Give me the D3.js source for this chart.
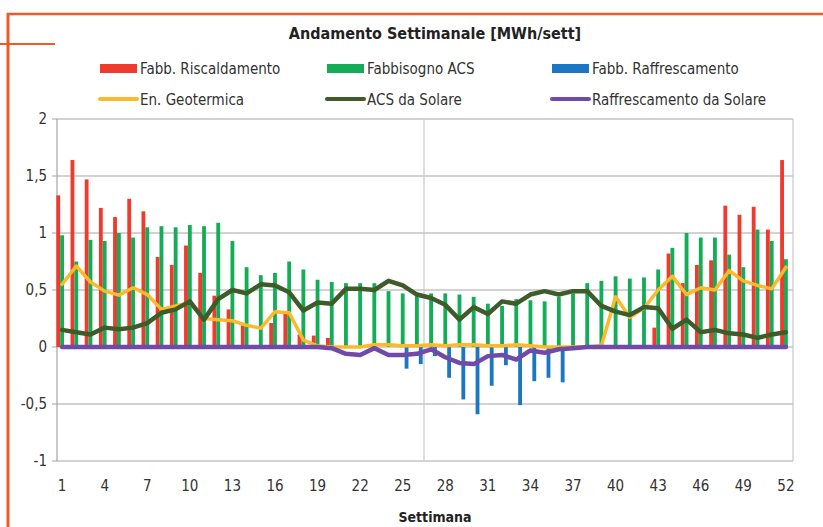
<!DOCTYPE html>
<html>
<head>
<meta charset="utf-8">
<script src="https://cdn.jsdelivr.net/npm/d3@7"></script>
<style>
  body { margin: 0; background: #fff; }
  svg { display: block; font-family: "Liberation Sans Narrow", "DejaVu Sans Condensed", sans-serif; }
</style>
</head>
<body>
<svg id="chart" width="823" height="527"></svg>
<script>
// weekly values, MWh/week
var weeks = d3.range(1, 53);
var riscaldamento = [1.33, 1.64, 1.47, 1.22, 1.14, 1.30, 1.19, 0.79, 0.72, 0.89, 0.65, 0.45, 0.33, 0.19, 0, 0.21, 0.29, 0.11, 0.10, 0.08,
    0, 0, 0, 0, 0, 0, 0, 0, 0, 0, 0, 0, 0, 0, 0, 0, 0, 0, 0, 0,
    0, 0, 0.17, 0.82, 0.56, 0.72, 0.76, 1.24, 1.16, 1.23, 1.03, 1.64];
var fabbisognoAcs = [0.98, 0.75, 0.94, 0.93, 1.00, 0.96, 1.05, 1.06, 1.05, 1.07, 1.06, 1.09, 0.93, 0.70, 0.63, 0.65, 0.75, 0.68, 0.59, 0.57,
    0.56, 0.56, 0.56, 0.49, 0.47, 0.45, 0.47, 0.47, 0.46, 0.44, 0.38, 0.36, 0.42, 0.41, 0.40, 0.44, 0.47, 0.56, 0.58, 0.62,
    0.60, 0.61, 0.68, 0.87, 1.00, 0.96, 0.96, 0.81, 0.70, 1.03, 0.93, 0.77];
var raffrescamento = [0, 0, 0, 0, 0, 0, 0, 0, 0, 0, 0, 0, 0, 0, 0, 0, 0, 0, 0, 0,
    0, 0, 0, 0, -0.19, -0.15, -0.08, -0.27, -0.46, -0.59, -0.34, -0.16, -0.51, -0.30, -0.27, -0.31, 0, 0, 0, 0,
    0, 0, 0, 0, 0, 0, 0, 0, 0, 0, 0, 0];
var geotermica = [0.55, 0.71, 0.57, 0.49, 0.455, 0.52, 0.46, 0.33, 0.36, 0.39, 0.25, 0.24, 0.23, 0.19, 0.165, 0.31, 0.30, 0.06, 0.01, 0,
    0, 0, 0.02, 0.02, 0.01, 0.01, 0.02, 0.01, 0.02, 0.02, 0.01, 0.01, 0.02, 0.01, 0, 0, 0, 0, 0.01, 0.44,
    0.26, 0.34, 0.50, 0.62, 0.46, 0.52, 0.50, 0.67, 0.58, 0.54, 0.51, 0.70];
var acsSolare = [0.15, 0.13, 0.11, 0.17, 0.155, 0.17, 0.21, 0.30, 0.33, 0.40, 0.24, 0.42, 0.50, 0.47, 0.55, 0.54, 0.48, 0.32, 0.39, 0.38,
    0.51, 0.51, 0.50, 0.58, 0.54, 0.46, 0.43, 0.37, 0.24, 0.35, 0.29, 0.40, 0.38, 0.46, 0.49, 0.46, 0.49, 0.49, 0.36, 0.31,
    0.28, 0.35, 0.34, 0.16, 0.24, 0.13, 0.15, 0.12, 0.11, 0.08, 0.11, 0.13];
var raffSolare = [0, 0, 0, 0, 0, 0, 0, 0, 0, 0, 0, 0, 0, 0, 0, 0, 0, 0, 0, -0.01,
    -0.06, -0.07, -0.01, -0.07, -0.07, -0.06, -0.02, -0.09, -0.14, -0.15, -0.08, -0.07, -0.11, -0.03, -0.05, -0.02, -0.01, 0, 0, 0,
    0, 0, 0, 0, 0, 0, 0, 0, 0, 0, 0, 0];
var yTicks = [2, 1.5, 1, 0.5, 0, -0.5, -1];
var xTickWeeks = d3.range(1, 53, 3);

var barSeries = [
    { name: "Fabb. Riscaldamento", values: riscaldamento, color: "#ee3b2e" },
    { name: "Fabbisogno ACS", values: fabbisognoAcs, color: "#14ad57" },
    { name: "Fabb. Raffrescamento", values: raffrescamento, color: "#1c76c2" }
];
var lineSeries = [
    { name: "En. Geotermica", values: geotermica, color: "#fcb92a", width: 3.5 },
    { name: "ACS da Solare", values: acsSolare, color: "#3e5b2a", width: 4.5 },
    { name: "Raffrescamento da Solare", values: raffSolare, color: "#7149a8", width: 4.5 }
];

var svg = d3.select("#chart");
var plotLeft = 57, plotRight = 793, plotTop = 119, plotBottom = 461;

// orange frame of the page the chart was cut from
var frame = "#ef5a2a";
svg.append("line").attr("x1", 8).attr("x2", 8).attr("y1", 13).attr("y2", 527)
    .attr("stroke", frame).attr("stroke-width", 3);
svg.append("line").attr("x1", 7).attr("x2", 823).attr("y1", 14).attr("y2", 14)
    .attr("stroke", frame).attr("stroke-width", 2.5);
svg.append("line").attr("x1", 0).attr("x2", 55).attr("y1", 44).attr("y2", 44)
    .attr("stroke", frame).attr("stroke-width", 2);

var x = d3.scaleBand().domain(weeks).range([plotLeft - 2, plotRight]);
var xSub = d3.scaleBand().domain(d3.range(barSeries.length)).range([0, x.bandwidth()]).paddingOuter(0.35);
var y = d3.scaleLinear().domain([-1, 2]).range([plotBottom, plotTop]);

// grid
svg.append("g").selectAll("line").data(yTicks).enter().append("line")
    .attr("x1", plotLeft - 5).attr("x2", plotRight)
    .attr("y1", d => y(d)).attr("y2", d => y(d))
    .attr("stroke", "#a6a6a6").attr("stroke-width", 1.2);
svg.append("g").selectAll("line").data([26, 52]).enter().append("line")
    .attr("x1", d => x(d) + x.bandwidth()).attr("x2", d => x(d) + x.bandwidth())
    .attr("y1", plotTop).attr("y2", plotBottom)
    .attr("stroke", "#c8c8c8").attr("stroke-width", 1.2);
svg.append("line").attr("x1", plotLeft).attr("x2", plotLeft).attr("y1", plotTop).attr("y2", plotBottom)
    .attr("stroke", "#a6a6a6").attr("stroke-width", 1.2);

// bars
barSeries.forEach(function (s, k) {
    svg.append("g").selectAll("rect").data(s.values).enter().append("rect")
        .attr("x", (d, i) => x(weeks[i]) + xSub(k))
        .attr("width", xSub.bandwidth())
        .attr("y", d => y(Math.max(0, d)))
        .attr("height", d => Math.abs(y(d) - y(0)))
        .attr("fill", s.color);
});

// lines
lineSeries.forEach(function (s) {
    var line = d3.line()
        .x((d, i) => x(weeks[i]) + x.bandwidth() / 2)
        .y(d => y(d));
    svg.append("path").datum(s.values)
        .attr("d", line)
        .attr("fill", "none")
        .attr("stroke", s.color)
        .attr("stroke-width", s.width)
        .attr("stroke-linejoin", "round")
        .attr("stroke-linecap", "round");
});

// y labels
svg.append("g").selectAll("text").data(yTicks).enter().append("text")
    .attr("x", 47).attr("y", d => y(d) + 5)
    .attr("text-anchor", "end")
    .attr("font-size", 15).attr("fill", "#333")
    .text(d => String(d).replace(".", ","));

// x labels
svg.append("g").selectAll("text").data(xTickWeeks).enter().append("text")
    .attr("x", d => x(d) + x.bandwidth() / 2).attr("y", 491)
    .attr("text-anchor", "middle")
    .attr("font-size", 15).attr("fill", "#333")
    .text(d => d);

svg.append("text").attr("x", 435).attr("y", 522).attr("text-anchor", "middle")
    .attr("font-size", 14).attr("font-weight", "bold").attr("fill", "#222")
    .text("Settimana");

svg.append("text").attr("x", 435).attr("y", 39).attr("text-anchor", "middle")
    .attr("font-size", 16).attr("font-weight", "bold").attr("fill", "#222")
    .text("Andamento Settimanale [MWh/sett]");

// legend
var legX = [100, 327, 552];
barSeries.forEach(function (s, k) {
    var g = svg.append("g").attr("transform", "translate(" + legX[k] + ",68)");
    g.append("rect").attr("x", 0).attr("y", -4).attr("width", 37).attr("height", 9).attr("fill", s.color);
    g.append("text").attr("x", 40).attr("y", 5.5).attr("font-size", 15).attr("fill", "#333").text(s.name);
});
lineSeries.forEach(function (s, k) {
    var g = svg.append("g").attr("transform", "translate(" + legX[k] + ",99)");
    g.append("line").attr("x1", 0).attr("x2", 37).attr("y1", 0).attr("y2", 0)
        .attr("stroke", s.color).attr("stroke-width", 4).attr("stroke-linecap", "round");
    g.append("text").attr("x", 40).attr("y", 5.5).attr("font-size", 15).attr("fill", "#333").text(s.name);
});
</script>
</body>
</html>
